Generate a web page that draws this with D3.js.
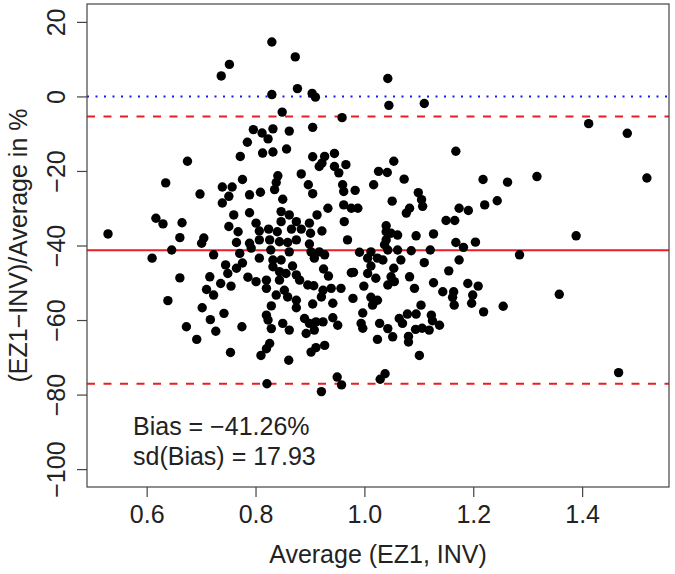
<!DOCTYPE html>
<html>
<head>
<meta charset="utf-8">
<script src="https://cdn.jsdelivr.net/npm/d3@7"></script>
<style>
  body { margin: 0; background: #fff; }
  text { font-family: "Liberation Sans", Arial, sans-serif; fill: #222; }
</style>
</head>
<body>
<svg id="chart" width="675" height="574"></svg>
<script>
// average of the two methods (x)
const avgValues = [
  0.752, 0.737, 0.675, 0.772, 0.785, 0.635, 0.698, 0.739, 0.757, 0.751,
  0.739, 0.760, 0.776, 0.617, 0.665, 0.529, 0.630, 0.661, 0.646, 0.610,
  0.705, 0.701, 0.723, 0.661, 0.639, 0.716, 0.710, 0.723, 0.736, 0.745,
  0.749, 0.755, 0.765, 0.776, 0.751, 0.768, 0.765, 0.771, 0.702, 0.717,
  0.742, 0.727, 0.673, 0.692, 0.754, 0.775, 0.830, 0.873, 0.877, 0.830,
  0.904, 0.910, 0.849, 0.959, 0.905, 0.796, 0.812, 0.832, 0.862, 0.823,
  0.813, 0.832, 0.857, 0.905, 0.927, 0.945, 0.922, 0.917, 0.945, 0.966,
  0.953, 0.884, 0.841, 0.838, 0.835, 0.897, 0.905, 0.960, 0.962, 0.789,
  0.809, 0.850, 0.983, 0.933, 0.962, 0.976, 0.789, 0.847, 0.862, 0.913,
  0.847, 0.875, 0.899, 0.801, 0.824, 0.807, 0.840, 0.866, 0.884, 0.901,
  0.922, 0.963, 0.789, 0.807, 0.826, 0.844, 0.859, 0.875, 0.899, 0.969,
  0.792, 0.828, 0.862, 0.902, 0.917, 0.807, 0.908, 0.927, 0.832, 0.847,
  0.868, 0.925, 0.832, 0.844, 0.976, 0.856, 0.875, 0.934, 0.786, 0.801,
  0.820, 0.844, 0.881, 0.820, 0.896, 0.907, 0.853, 0.924, 0.939, 0.957,
  0.838, 0.859, 0.921, 0.875, 0.979, 0.829, 0.905, 0.875, 0.942, 0.820,
  0.823, 0.829, 0.850, 0.862, 0.890, 0.899, 0.911, 0.924, 0.942, 0.951,
  0.893, 0.908, 0.826, 0.820, 0.810, 0.911, 0.927, 0.902, 0.861, 0.821,
  0.921, 0.950, 0.958, 1.043, 1.045, 1.110, 1.168, 1.054, 1.026, 1.042,
  1.073, 1.017, 1.099, 1.051, 1.105, 1.107, 1.083, 1.077, 0.988, 1.174,
  1.150, 1.166, 1.040, 1.040, 1.049, 1.061, 1.095, 1.127, 1.040, 1.037,
  1.168, 0.991, 1.012, 1.043, 1.061, 1.086, 1.121, 1.006, 1.024, 1.034,
  1.067, 1.174, 1.110, 1.012, 1.054, 0.980, 1.006, 1.155, 1.049, 1.021,
  1.083, 1.055, 1.043, 1.127, 0.999, 1.092, 1.144, 1.164, 1.162, 1.012,
  1.024, 1.015, 1.165, 0.997, 1.104, 1.095, 1.079, 1.064, 1.123, 1.070,
  1.125, 1.138, 0.994, 0.997, 1.028, 1.043, 1.052, 1.094, 1.106, 1.119,
  1.081, 1.081, 1.024, 1.101, 1.038, 1.029, 1.412, 1.483, 1.218, 1.263,
  1.317, 1.519, 1.244, 1.191, 1.221, 1.182, 1.204, 1.285, 1.389, 1.190,
  1.209, 1.199, 1.197, 1.219, 1.255, 1.358, 1.467
];

// (EZ1 - INV) / average in % (y)
const pctDiff = [
  8.6, 5.5, -17.4, -16.1, -12.3, -23.2, -26.2, -24.3, -24.3, -26.8,
  -28.6, -31.8, -22.3, -32.7, -33.9, -36.9, -34.2, -37.9, -41.2, -43.4,
  -38.0, -39.4, -42.5, -48.7, -54.8, -48.4, -51.8, -53.3, -50.2, -45.2,
  -47.5, -50.9, -46.1, -44.7, -34.9, -36.3, -39.2, -42.1, -56.7, -59.9,
  -58.2, -63.0, -61.8, -65.2, -68.7, -61.8, 14.6, 10.6, 2.1, 0.5,
  0.8, -0.2, -4.2, -5.7, -8.3, -8.9, -9.8, -8.7, -9.3, -11.4,
  -15.2, -14.9, -14.1, -16.2, -16.1, -15.3, -17.9, -18.8, -18.8, -18.3,
  -20.5, -20.8, -21.3, -23.1, -25.0, -23.7, -26.1, -23.7, -25.5, -26.4,
  -25.7, -27.6, -25.2, -30.0, -29.1, -30.0, -31.2, -30.9, -31.8, -31.8,
  -33.6, -33.6, -34.0, -34.0, -35.6, -36.1, -36.3, -35.6, -35.6, -36.7,
  -36.1, -33.6, -39.4, -38.5, -38.5, -39.0, -39.2, -38.5, -39.6, -38.5,
  -40.7, -41.2, -41.7, -41.7, -41.7, -43.4, -43.4, -42.5, -43.9, -43.9,
  -45.5, -46.3, -45.7, -47.0, -47.3, -47.5, -47.9, -48.2, -48.5, -49.7,
  -49.3, -49.3, -49.3, -51.5, -50.6, -50.8, -52.0, -52.0, -51.5, -51.5,
  -53.3, -53.8, -53.8, -54.7, -54.2, -56.2, -55.7, -56.7, -55.5, -58.7,
  -60.0, -62.3, -60.9, -62.7, -59.6, -60.9, -60.5, -60.5, -59.4, -61.4,
  -63.6, -62.7, -66.3, -67.7, -69.5, -67.4, -66.8, -68.6, -70.8, -77.1,
  -79.2, -75.3, -77.4, 4.8, -2.4, -1.9, -14.7, -17.4, -20.1, -20.4,
  -22.2, -23.7, -25.8, -28.1, -27.7, -29.5, -30.0, -31.3, -30.0, -30.0,
  -33.3, -33.3, -34.7, -36.3, -36.7, -37.2, -37.4, -36.9, -38.5, -39.8,
  -39.2, -41.8, -41.7, -41.2, -41.2, -41.4, -41.2, -43.4, -43.4, -43.9,
  -43.9, -43.9, -44.6, -45.5, -46.1, -47.2, -47.5, -46.8, -48.4, -48.8,
  -48.4, -49.7, -50.6, -50.0, -50.9, -51.5, -52.4, -52.4, -53.9, -53.9,
  -54.7, -56.0, -56.0, -58.1, -56.0, -58.4, -58.4, -59.6, -58.7, -60.9,
  -60.2, -61.4, -60.9, -62.2, -60.9, -62.3, -64.5, -62.5, -62.2, -62.7,
  -64.4, -65.9, -65.2, -69.5, -74.4, -75.9, -7.3, -9.9, -22.3, -23.0,
  -21.5, -21.9, -28.0, -30.6, -29.1, -40.5, -39.1, -42.5, -37.4, -50.2,
  -50.9, -53.3, -55.5, -57.8, -56.3, -53.1, -74.1
];

const xTicks = [0.6, 0.8, 1.0, 1.2, 1.4];
const yTicks = [20, 0, -20, -40, -60, -80, -100];
const bias = -41.26;
const sdBias = 17.93;

const width = 675;
const height = 574;
const margin = { top: 4, right: 6, bottom: 87, left: 87 };
const fontSize = "25px";

const svg = d3.select("#chart");
const points = avgValues.map((v, i) => ({ x: v, y: pctDiff[i] }));

const x = d3.scaleLinear()
  .domain([0.4904, 1.5596])
  .range([margin.left, width - margin.right]);
const y = d3.scaleLinear()
  .domain([-104.8, 24.8])
  .range([height - margin.bottom, margin.top]);

const fmtMinus = (s) => s.replace("-", "\u2212");

// reference lines: zero, bias, bias +/- 2 sd
const refLines = [
  { v: 0, color: "#1a1ae6", dash: "2,6.5" },
  { v: bias + 2 * sdBias, color: "#ec1c24", dash: "8,8.5" },
  { v: bias, color: "#ec1c24", dash: null },
  { v: bias - 2 * sdBias, color: "#ec1c24", dash: "8,8.5" }
];
svg.append("g")
  .selectAll("line")
  .data(refLines)
  .enter()
  .append("line")
  .attr("x1", x.range()[0])
  .attr("x2", x.range()[1])
  .attr("y1", (d) => y(d.v))
  .attr("y2", (d) => y(d.v))
  .attr("stroke", (d) => d.color)
  .attr("stroke-width", 2)
  .attr("stroke-dasharray", (d) => d.dash);

// points
svg.append("g")
  .selectAll("circle")
  .data(points)
  .enter()
  .append("circle")
  .attr("cx", (d) => x(d.x))
  .attr("cy", (d) => y(d.y))
  .attr("r", 4.7)
  .attr("fill", "#000");

// box
svg.append("rect")
  .attr("x", x.range()[0])
  .attr("y", margin.top)
  .attr("width", x.range()[1] - x.range()[0])
  .attr("height", height - margin.bottom - margin.top)
  .attr("fill", "none")
  .attr("stroke", "#444")
  .attr("stroke-width", 1.2);

// axes
const xAxis = svg.append("g")
  .attr("transform", `translate(0,${height - margin.bottom})`)
  .call(d3.axisBottom(x).tickValues(xTicks).tickFormat(d3.format(".1f")).tickSize(10));
const yAxis = svg.append("g")
  .attr("transform", `translate(${margin.left},0)`)
  .call(d3.axisLeft(y).tickValues(yTicks).tickFormat((d) => fmtMinus(String(d))).tickSize(10));

[xAxis, yAxis].forEach((g) => {
  g.select(".domain").remove();
  g.selectAll(".tick line").attr("stroke", "#444").attr("stroke-width", 1.2);
  g.selectAll(".tick text").attr("fill", "#222").style("font-size", fontSize)
    .style("font-family", "Liberation Sans, Arial, sans-serif");
});

xAxis.selectAll(".tick text")
  .attr("y", 36)
  .attr("dy", null);

yAxis.selectAll(".tick text")
  .attr("x", null)
  .attr("dy", null)
  .attr("text-anchor", "middle")
  .attr("transform", "translate(-22,0) rotate(-90)");

// axis titles
svg.append("text")
  .attr("x", (x.range()[0] + x.range()[1]) / 2)
  .attr("y", 563)
  .attr("text-anchor", "middle")
  .style("font-size", fontSize)
  .text("Average (EZ1, INV)");

svg.append("text")
  .attr("transform", `translate(27,${(y.range()[0] + y.range()[1]) / 2}) rotate(-90)`)
  .attr("text-anchor", "middle")
  .style("font-size", fontSize)
  .text("(EZ1\u2212INV)/Average in %");

// bias annotation
svg.append("text")
  .attr("x", 133)
  .attr("y", 435)
  .style("font-size", fontSize)
  .text("Bias = " + fmtMinus(bias.toFixed(2)) + "%");
svg.append("text")
  .attr("x", 133)
  .attr("y", 465)
  .style("font-size", fontSize)
  .text("sd(Bias) = " + sdBias.toFixed(2));
</script>
</body>
</html>
